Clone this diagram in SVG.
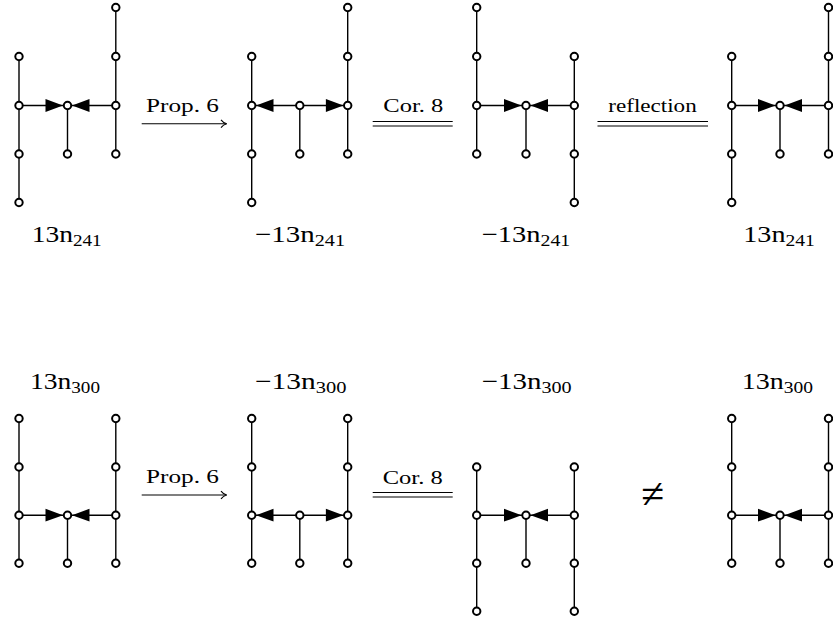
<svg xmlns="http://www.w3.org/2000/svg" xmlns:xlink="http://www.w3.org/1999/xlink" width="833" height="623" viewBox="0 0 833 623">
<style>
.e{stroke:#000;stroke-width:1.4;fill:none}
.n{fill:#fff;stroke:#000;stroke-width:2}
.lbl{font-family:"Liberation Serif","DejaVu Serif",serif;font-size:23px;fill:#000}
.sub{font-size:16px}
.al{font-family:"Liberation Serif","DejaVu Serif",serif;font-size:19px;fill:#000}
.c{stroke:#000;stroke-width:1.1;fill:none}
.ah{fill:#000}
</style>
<defs>
<path id="ahR" class="ah" d="M0,0 L-17.5,-6.4 L-17.5,6.4 Z"/>
<path id="ahL" class="ah" d="M0,0 L17.5,-6.4 L17.5,6.4 Z"/>
<path id="chev" class="c" d="M-5.7,-3.9 C-4.2,-1.9 -2.2,-0.5 0,0 C-2.2,0.5 -4.2,1.9 -5.7,3.9"/>
</defs>

<!-- Top row -->
<g id="g-13n241-a">
<path class="e" d="M19,56.5V202.5 M115.8,7.5V154 M19,105.5H115.8 M67.5,105.5V154"/>
<use xlink:href="#ahR" x="63" y="105.5"/>
<use xlink:href="#ahL" x="72" y="105.5"/>
<circle class="n" cx="19" cy="56.5" r="3.7"/><circle class="n" cx="19" cy="105.5" r="3.7"/><circle class="n" cx="19" cy="154" r="3.7"/><circle class="n" cx="19" cy="202.5" r="3.7"/>
<circle class="n" cx="67.5" cy="105.5" r="3.7"/><circle class="n" cx="67.5" cy="154" r="3.7"/>
<circle class="n" cx="115.8" cy="7.5" r="3.7"/><circle class="n" cx="115.8" cy="56.5" r="3.7"/><circle class="n" cx="115.8" cy="105.5" r="3.7"/><circle class="n" cx="115.8" cy="154" r="3.7"/>
<text class="lbl" x="31.7" y="242" textLength="70" lengthAdjust="spacingAndGlyphs">13n<tspan class="sub" dy="3.5">241</tspan></text>
</g>

<g id="g-m13n241-a">
<path class="e" d="M251.7,56.5V202.5 M347.7,7.5V154 M251.7,105.5H347.7 M299.8,105.5V154"/>
<use xlink:href="#ahL" x="256" y="105.5"/>
<use xlink:href="#ahR" x="343.4" y="105.5"/>
<circle class="n" cx="251.7" cy="56.5" r="3.7"/><circle class="n" cx="251.7" cy="105.5" r="3.7"/><circle class="n" cx="251.7" cy="154" r="3.7"/><circle class="n" cx="251.7" cy="202.5" r="3.7"/>
<circle class="n" cx="299.8" cy="105.5" r="3.7"/><circle class="n" cx="299.8" cy="154" r="3.7"/>
<circle class="n" cx="347.7" cy="7.5" r="3.7"/><circle class="n" cx="347.7" cy="56.5" r="3.7"/><circle class="n" cx="347.7" cy="105.5" r="3.7"/><circle class="n" cx="347.7" cy="154" r="3.7"/>
<text class="lbl" x="255" y="242" textLength="90" lengthAdjust="spacingAndGlyphs">−13n<tspan class="sub" dy="3.5">241</tspan></text>
</g>

<g id="g-m13n241-b">
<path class="e" d="M476.7,7.5V154 M574.3,56.5V202.5 M476.7,105.5H574.3 M526,105.5V154"/>
<use xlink:href="#ahR" x="521.5" y="105.5"/>
<use xlink:href="#ahL" x="530.5" y="105.5"/>
<circle class="n" cx="476.7" cy="7.5" r="3.7"/><circle class="n" cx="476.7" cy="56.5" r="3.7"/><circle class="n" cx="476.7" cy="105.5" r="3.7"/><circle class="n" cx="476.7" cy="154" r="3.7"/>
<circle class="n" cx="526" cy="105.5" r="3.7"/><circle class="n" cx="526" cy="154" r="3.7"/>
<circle class="n" cx="574.3" cy="56.5" r="3.7"/><circle class="n" cx="574.3" cy="105.5" r="3.7"/><circle class="n" cx="574.3" cy="154" r="3.7"/><circle class="n" cx="574.3" cy="202.5" r="3.7"/>
<text class="lbl" x="481.7" y="242" textLength="88.5" lengthAdjust="spacingAndGlyphs">−13n<tspan class="sub" dy="3.5">241</tspan></text>
</g>

<g id="g-13n241-b">
<path class="e" d="M731.7,56.5V202.5 M828.5,7.5V154 M731.7,105.5H828.5 M780,105.5V154"/>
<use xlink:href="#ahR" x="775.5" y="105.5"/>
<use xlink:href="#ahL" x="784.5" y="105.5"/>
<circle class="n" cx="731.7" cy="56.5" r="3.7"/><circle class="n" cx="731.7" cy="105.5" r="3.7"/><circle class="n" cx="731.7" cy="154" r="3.7"/><circle class="n" cx="731.7" cy="202.5" r="3.7"/>
<circle class="n" cx="780" cy="105.5" r="3.7"/><circle class="n" cx="780" cy="154" r="3.7"/>
<circle class="n" cx="828.5" cy="7.5" r="3.7"/><circle class="n" cx="828.5" cy="56.5" r="3.7"/><circle class="n" cx="828.5" cy="105.5" r="3.7"/><circle class="n" cx="828.5" cy="154" r="3.7"/>
<text class="lbl" x="743.3" y="242" textLength="71.5" lengthAdjust="spacingAndGlyphs">13n<tspan class="sub" dy="3.5">241</tspan></text>
</g>

<!-- Bottom row -->
<g id="g-13n300-a">
<path class="e" d="M19,418.5V563.3 M115.8,418.5V563.3 M19,515.2H115.8 M67.5,515.2V563.3"/>
<use xlink:href="#ahR" x="63" y="515.2"/>
<use xlink:href="#ahL" x="72" y="515.2"/>
<circle class="n" cx="19" cy="418.5" r="3.7"/><circle class="n" cx="19" cy="467" r="3.7"/><circle class="n" cx="19" cy="515.2" r="3.7"/><circle class="n" cx="19" cy="563.3" r="3.7"/>
<circle class="n" cx="67.5" cy="515.2" r="3.7"/><circle class="n" cx="67.5" cy="563.3" r="3.7"/>
<circle class="n" cx="115.8" cy="418.5" r="3.7"/><circle class="n" cx="115.8" cy="467" r="3.7"/><circle class="n" cx="115.8" cy="515.2" r="3.7"/><circle class="n" cx="115.8" cy="563.3" r="3.7"/>
<text class="lbl" x="30" y="389.3" textLength="70" lengthAdjust="spacingAndGlyphs">13n<tspan class="sub" dy="3.5">300</tspan></text>
</g>

<g id="g-m13n300-a">
<path class="e" d="M251.7,418.5V563.3 M347.7,418.5V563.3 M251.7,515.2H347.7 M299.8,515.2V563.3"/>
<use xlink:href="#ahL" x="256" y="515.2"/>
<use xlink:href="#ahR" x="343.4" y="515.2"/>
<circle class="n" cx="251.7" cy="418.5" r="3.7"/><circle class="n" cx="251.7" cy="467" r="3.7"/><circle class="n" cx="251.7" cy="515.2" r="3.7"/><circle class="n" cx="251.7" cy="563.3" r="3.7"/>
<circle class="n" cx="299.8" cy="515.2" r="3.7"/><circle class="n" cx="299.8" cy="563.3" r="3.7"/>
<circle class="n" cx="347.7" cy="418.5" r="3.7"/><circle class="n" cx="347.7" cy="467" r="3.7"/><circle class="n" cx="347.7" cy="515.2" r="3.7"/><circle class="n" cx="347.7" cy="563.3" r="3.7"/>
<text class="lbl" x="255" y="389.3" textLength="91.5" lengthAdjust="spacingAndGlyphs">−13n<tspan class="sub" dy="3.5">300</tspan></text>
</g>

<g id="g-m13n300-b">
<path class="e" d="M476.7,467V611.3 M574.3,467V611.3 M476.7,515.2H574.3 M526,515.2V563.3"/>
<use xlink:href="#ahR" x="521.5" y="515.2"/>
<use xlink:href="#ahL" x="530.5" y="515.2"/>
<circle class="n" cx="476.7" cy="467" r="3.7"/><circle class="n" cx="476.7" cy="515.2" r="3.7"/><circle class="n" cx="476.7" cy="563.3" r="3.7"/><circle class="n" cx="476.7" cy="611.3" r="3.7"/>
<circle class="n" cx="526" cy="515.2" r="3.7"/><circle class="n" cx="526" cy="563.3" r="3.7"/>
<circle class="n" cx="574.3" cy="467" r="3.7"/><circle class="n" cx="574.3" cy="515.2" r="3.7"/><circle class="n" cx="574.3" cy="563.3" r="3.7"/><circle class="n" cx="574.3" cy="611.3" r="3.7"/>
<text class="lbl" x="481.7" y="389.3" textLength="90" lengthAdjust="spacingAndGlyphs">−13n<tspan class="sub" dy="3.5">300</tspan></text>
</g>

<g id="g-13n300-b">
<path class="e" d="M731.7,418.5V563.3 M828.5,418.5V563.3 M731.7,515.2H828.5 M780,515.2V563.3"/>
<use xlink:href="#ahR" x="775.5" y="515.2"/>
<use xlink:href="#ahL" x="784.5" y="515.2"/>
<circle class="n" cx="731.7" cy="418.5" r="3.7"/><circle class="n" cx="731.7" cy="467" r="3.7"/><circle class="n" cx="731.7" cy="515.2" r="3.7"/><circle class="n" cx="731.7" cy="563.3" r="3.7"/>
<circle class="n" cx="780" cy="515.2" r="3.7"/><circle class="n" cx="780" cy="563.3" r="3.7"/>
<circle class="n" cx="828.5" cy="418.5" r="3.7"/><circle class="n" cx="828.5" cy="467" r="3.7"/><circle class="n" cx="828.5" cy="515.2" r="3.7"/><circle class="n" cx="828.5" cy="563.3" r="3.7"/>
<text class="lbl" x="741.7" y="389.3" textLength="71.3" lengthAdjust="spacingAndGlyphs">13n<tspan class="sub" dy="3.5">300</tspan></text>
</g>

<!-- Connectors between diagrams -->
<g id="connectors">
<line class="c" x1="141.7" y1="123.7" x2="226.5" y2="123.7"/>
<use xlink:href="#chev" x="226.7" y="123.7"/>
<text class="al" x="146" y="112" textLength="73" lengthAdjust="spacingAndGlyphs">Prop. 6</text>

<line class="c" x1="372.7" y1="121.5" x2="452.7" y2="121.5"/>
<line class="c" x1="372.7" y1="126" x2="452.7" y2="126"/>
<text class="al" x="383.3" y="112" textLength="60" lengthAdjust="spacingAndGlyphs">Cor. 8</text>

<line class="c" x1="597.5" y1="121.5" x2="708" y2="121.5"/>
<line class="c" x1="597.5" y1="126" x2="708" y2="126"/>
<text class="al" x="608.3" y="112" textLength="88.4" lengthAdjust="spacingAndGlyphs">reflection</text>

<line class="c" x1="141.7" y1="495" x2="226.5" y2="495"/>
<use xlink:href="#chev" x="226.7" y="495"/>
<text class="al" x="146" y="483.3" textLength="73" lengthAdjust="spacingAndGlyphs">Prop. 6</text>

<line class="c" x1="372.7" y1="492.5" x2="452.7" y2="492.5"/>
<line class="c" x1="372.7" y1="497" x2="452.7" y2="497"/>
<text class="al" x="382.7" y="484" textLength="60" lengthAdjust="spacingAndGlyphs">Cor. 8</text>

<text class="lbl" x="652.5" y="508" text-anchor="middle" style="font-size:42px">≠</text>
</g>
</svg>
